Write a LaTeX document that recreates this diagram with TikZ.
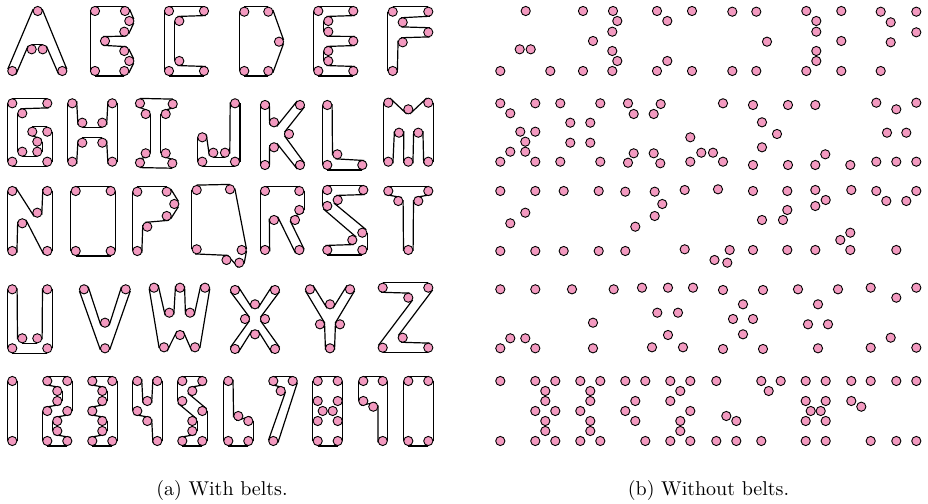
\documentclass[tikz,border=0pt]{standalone}
\usetikzlibrary{calc}
\pgfdeclarelayer{bg}
\pgfsetlayers{bg,main}
\definecolor{pegpink}{RGB}{243,154,192}
\tikzset{
  pegst/.style={draw=black, fill=pegpink, line width=0.45pt},
  beltst/.style={draw=black, line width=0.6pt},
  captionst/.style={font=\fontsize{10}{12}\selectfont, inner sep=0pt}
}
\newcommand\pegr{2.3pt}
\newcommand\beltr{2.45pt}
\newcommand\defpegs[2]{%
  \foreach \px/\py [count=\k] in {#2} {%
    \coordinate (#1-\k) at (\px,\py);
    \draw[pegst] (#1-\k) circle[radius=\pegr];
    \draw[pegst] (\px+488,\py) circle[radius=\pegr];
  }%
}
\newcommand\belt[2]{%
  \begin{pgfonlayer}{bg}
  \foreach \k/\s [remember=\k as \lk (initially 0), remember=\s as \ls (initially 0)] in {#2} {%
    \ifnum\lk>0
      \pgfmathsetmacro\angA{-90*\ls}%
      \pgfmathsetmacro\angB{90*\s}%
      \draw[beltst] ($(#1-\lk)!\beltr!\angA:(#1-\k)$) -- ($(#1-\k)!\beltr!\angB:(#1-\lk)$);
    \fi
  }%
  \end{pgfonlayer}
}
\begin{document}
\begin{tikzpicture}[x=0.5pt,y=-0.5pt]
\useasboundingbox (0,0) rectangle (928,504);
% ---- row 1
\defpegs{A}{37.7/11, 31.7/49.3, 42.7/49.3, 12.3/71, 62.3/71}
\belt{A}{1/1,4/1,2/-1,3/-1,5/1,1/1}
\defpegs{B}{95/11, 125/11, 129.3/21, 124.3/31.7, 105/41, 124.3/51, 129.3/61, 124.3/71, 95/71}
\belt{B}{1/1,9/1,8/1,7/1,6/1,5/-1,4/1,3/1,2/1,1/1}
\defpegs{C}{169/11, 204/11, 179.3/21, 179.3/61, 169/71, 204/71}
\belt{C}{2/1,1/1,5/1,6/1,4/-1,3/-1,2/1}
\defpegs{D}{244.3/11.7, 268.3/11.7, 279/41.7, 244.3/71, 268.3/71}
\belt{D}{2/1,1/1,4/1,5/1,3/1,2/1}
\defpegs{E}{318.3/11, 353.3/11, 328.3/21, 328.3/31.7, 353.3/41, 328.3/51, 328.3/61, 353.3/71, 318.3/71}
\belt{E}{2/1,1/1,9/1,8/1,7/-1,6/-1,5/1,4/-1,3/-1,2/1}
\defpegs{F}{392.7/11.7, 428.3/11.7, 402.7/22.3, 428.3/32.3, 402.7/42.3, 392.7/71}
\belt{F}{2/1,1/1,6/1,5/-1,4/1,3/-1,2/1}
% ---- row 2
\defpegs{G}{12.3/103.3, 47.3/103.3, 22.3/113.3, 32.3/131.7, 47.3/131.7, 37.3/141.7, 22.3/151.7, 37.3/151.7, 12.3/161.7, 47.3/161.7}
\belt{G}{2/1,1/1,9/1,10/1,5/1,4/1,6/-1,8/-1,7/-1,3/-1,2/1}
\defpegs{H}{72.3/103.3, 112.3/103.3, 82.3/122.7, 102.3/122.7, 82.3/142.7, 102.3/142.7, 72.3/161.7, 112.3/161.7}
\belt{H}{1/1,7/1,5/-1,6/-1,8/1,2/1,4/-1,3/-1,1/1}
\defpegs{I}{140/103.3, 172.7/104, 145.7/114, 165.7/114, 145.7/153.3, 165.7/153.3, 140/162.7, 172.3/163.3}
\belt{I}{2/1,1/1,3/-1,5/-1,7/1,8/1,6/-1,4/-1,2/1}
\defpegs{J}{235/103.3, 202.3/137.3, 213.3/152.7, 225/152.7, 202.3/161.7, 235/161.7}
\belt{J}{1/1,4/-1,3/-1,2/1,5/1,6/1,1/1}
\defpegs{K}{265/105, 300/105, 274/122.3, 289/134, 274/147.3, 265/165, 300/165}
\belt{K}{1/1,6/1,5/-1,7/1,4/-1,2/1,3/-1,1/1}
\defpegs{L}{327.3/105, 337.3/154.3, 327.3/165, 362.3/165}
\belt{L}{1/1,3/1,4/1,2/-1,1/1}
\defpegs{M}{388.3/102.7, 408.3/109.3, 428.3/102.7, 399/132.7, 418.3/132.7, 388.3/161.7, 408.3/161.7, 428.3/161.7}
\belt{M}{3/1,2/-1,1/1,6/1,4/-1,7/1,5/-1,8/1,3/1}
% ---- row 3
\defpegs{N}{12.3/191, 47.3/191, 37.3/212.7, 22.3/223.3, 12.3/251, 47.3/251}
\belt{N}{1/1,5/1,4/-1,6/1,2/1,3/-1,1/1}
\defpegs{O}{75.7/191, 110.7/191, 75.7/251, 110.7/251}
\belt{O}{2/1,1/1,3/1,4/1,2/1}
\defpegs{P}{137.3/191.7, 166.7/191.7, 174.3/204, 166.7/216, 147.3/226.7, 137.3/251}
\belt{P}{2/1,1/1,6/1,5/-1,4/1,3/1,2/1}
\defpegs{Q}{196.7/190, 230/189.3, 196.7/249.3, 241.7/250, 226.5/260, 239.3/262.7}
\belt{Q}{2/1,1/1,3/1,5/-1,6/1,4/1,2/1}
\defpegs{R}{265/191, 299.3/191, 299.3/210, 274/220, 295/220, 265/250, 299.3/250}
\belt{R}{2/1,1/1,6/1,4/-1,7/1,5/-1,3/1,2/1}
\defpegs{S}{327.3/190, 363.3/190, 337.7/200, 327.3/206, 362.3/232.7, 352.3/240, 327.3/250, 362.3/250}
\belt{S}{2/1,1/1,4/1,6/-1,7/1,8/1,5/1,3/-1,2/1}
\defpegs{T}{388.3/191, 428.3/191, 398.3/201, 418.3/201, 408.3/250}
\belt{T}{2/1,1/1,3/-1,5/1,4/-1,2/1}
% ---- row 4
\defpegs{U}{12.3/289.3, 47.3/289.3, 22.3/338.3, 37.3/338.3, 12.3/348.3, 47.3/348.3}
\belt{U}{1/1,5/1,6/1,2/1,4/-1,3/-1,1/1}
\defpegs{V}{84/289.3, 125.7/289.3, 105/322.7, 105/348.3}
\belt{V}{1/1,4/1,2/1,3/-1,1/1}
\defpegs{W}{154/287.7, 180/287.7, 205/287.7, 169.3/312.7, 190/312.7, 180/335, 164/347.3, 195/347.3}
\belt{W}{1/1,7/1,6/-1,8/1,3/1,5/-1,2/1,4/-1,1/1}
\defpegs{X}{235/290, 275/290, 255/304.3, 245/319, 265/319, 255/334.3, 235/349, 275/349}
\belt{X}{1/1,4/-1,7/1,6/-1,8/1,5/-1,2/1,3/-1,1/1}
\defpegs{Y}{310/289.3, 350/289.3, 330/304.3, 320/324.3, 340/324.3, 330/348.3}
\belt{Y}{1/1,4/-1,6/1,5/-1,2/1,3/-1,1/1}
\defpegs{Z}{382.7/287.7, 428.3/287.7, 408.3/297.7, 402.7/337.7, 382.7/347.7, 428.3/347.7}
\belt{Z}{2/1,1/1,3/-1,5/1,6/1,4/-1,2/1}
% ---- row 5 digits
\defpegs{n1}{12.3/381, 12.3/441}
\belt{n1}{1/1,2/1,1/1}
\defpegs{n2}{47.3/381, 67.3/381, 57.3/391, 57.3/401, 47.3/411, 67.3/411, 57.3/421, 57.3/431, 47.3/441, 67.3/441}
\belt{n2}{2/1,1/1,3/-1,4/-1,5/1,9/1,10/1,8/-1,7/-1,6/1,2/1}
\defpegs{n3}{92.3/381, 112.3/381, 102.3/391, 102.3/401, 92.3/411, 102.3/421, 102.3/431, 92.3/441, 112.3/441}
\belt{n3}{2/1,1/1,3/-1,4/-1,5/1,6/-1,7/-1,8/1,9/1,2/1}
\defpegs{n4}{137.3/381, 157.3/381, 147.3/401, 137.3/411, 147.3/421, 157.3/441}
\belt{n4}{2/1,3/-1,1/1,4/1,5/-1,6/1,2/1}
\defpegs{n5}{182.3/381, 202.3/381, 192.3/391, 182.3/401, 202.3/411, 192.3/421, 192.3/431, 182.3/441, 202.3/441}
\belt{n5}{2/1,1/1,4/1,6/-1,7/-1,8/1,9/1,5/1,3/-1,2/1}
\defpegs{n6}{228.3/381, 238.3/416, 248.3/421, 228.3/441, 248.3/441}
\belt{n6}{1/1,4/1,5/1,3/1,2/-1,1/1}
\defpegs{n7}{273.3/381, 292.7/381, 280.7/391, 273.3/441}
\belt{n7}{2/1,1/1,3/-1,4/1,2/1}
\defpegs{n8}{317.7/381, 337.7/381, 317.7/401, 337.7/401, 322.7/411, 332.7/411, 317.7/421, 337.7/421, 317.7/441, 337.7/441}
\belt{n8}{2/1,1/1,9/1,10/1,2/1}
\defpegs{n9}{363.3/381, 382.7/381, 363.3/401, 373.3/406.7, 382.7/441}
\belt{n9}{2/1,1/1,3/1,4/-1,5/1,2/1}
\defpegs{n0}{408.3/381, 428.3/381, 408.3/441, 428.3/441}
\belt{n0}{2/1,1/1,3/1,4/1,2/1}
% ---- captions
\node[captionst] (capa) at (222,490) {(a) With belts.};
\node[captionst] (capb) at (708.5,490) {(b) Without belts.};
\end{tikzpicture}
\end{document}
